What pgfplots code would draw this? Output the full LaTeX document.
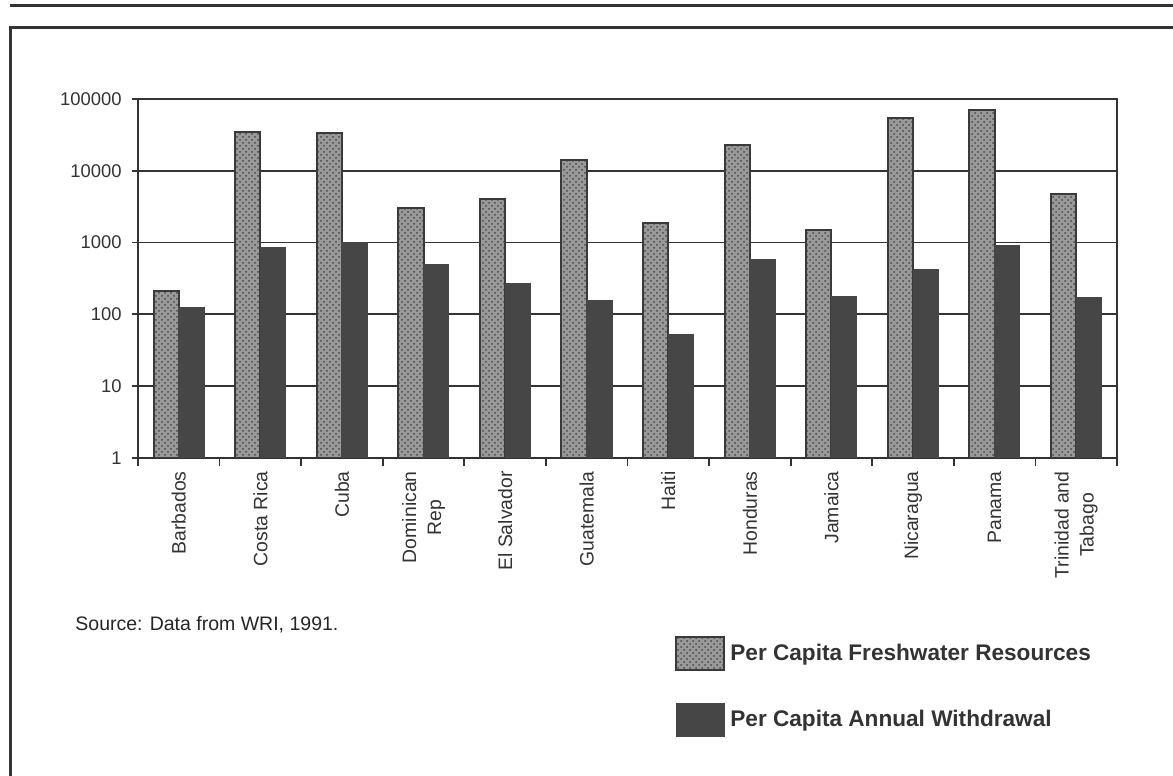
\documentclass[border=0pt]{standalone}
\usepackage{pgfplots}
\pgfplotsset{compat=1.18}
\usepackage{pgfplotstable}
\usetikzlibrary{patterns}
\usepackage{fontspec}
\setmainfont{Liberation Sans}

\definecolor{inkdark}{HTML}{333333}
\definecolor{withdrawfill}{HTML}{464646}
\definecolor{freshfill}{HTML}{999999}
\definecolor{freshdots}{HTML}{4A4A4A}
\definecolor{freshedge}{HTML}{3A3A3A}

% per capita freshwater resources and annual withdrawal (m3 per person)
\pgfplotstableread{
idx fresh withdrawal
0   210    123
1   34300  850
2   34000  1000
3   3070   496
4   4000   267
5   14100  156
6   1900   52
7   22800  582
8   1480   179
9   53700  423
10  70800  915
11  4710   173
}\water

\begin{document}
\begin{tikzpicture}
% page frame
\path[use as bounding box] (0pt,0pt) rectangle (586.5pt,388pt);
\draw[line width=1.5pt, inkdark] (5pt,385pt) -- (586.5pt,385pt);
\draw[line width=1.5pt, inkdark] (586.5pt,374pt) -- (5pt,374pt) -- (5pt,0pt);

\begin{axis}[
  at={(69pt,159pt)}, anchor=south west,
  scale only axis,
  width=489.5pt, height=179.5pt,
  ymode=log,
  ymin=1, ymax=100000,
  xmin=-0.5, xmax=11.5,
  ytick={1,10,100,1000,10000,100000},
  yticklabels={1,10,100,1000,10000,100000},
  yticklabel style={font=\fontsize{9.2}{10}\selectfont, text=inkdark, inner sep=0pt, xshift=-5pt},
  xtick={0,...,11},
  xticklabels={Barbados,Costa Rica,Cuba,Dominican\\Rep,El Salvador,Guatemala,Haiti,Honduras,Jamaica,Nicaragua,Panama,Trinidad and\\Tabago},
  xticklabel style={rotate=90, anchor=east, align=center, inner sep=0pt,
    font=\fontsize{9.7}{12.5}\selectfont, text=inkdark, xshift=-3.5pt},
  minor xtick={-0.5,0.5,...,11.5},
  every major x tick/.append style={draw=none},
  tick pos=left,
  tick align=outside,
  major tick length=3pt,
  minor tick length=4pt,
  tick style={inkdark, line width=0.9pt},
  ymajorgrids,
  major grid style={inkdark, line width=0.9pt},
  axis line style={inkdark, line width=1pt},
  yminorticks=false,
  log origin=infty,
  ybar,
  bar width=0.31,
  legend style={at={(0.5485,-0.495)}, anchor=north west, draw=none, fill=none,
    inner sep=0pt, row sep=16pt, column sep=2.5pt,
    font=\fontsize{11.3}{12}\selectfont\bfseries, text=inkdark,
    nodes={inner sep=0pt, anchor=west}},
  legend cell align=left,
  legend image code/.code={\fill[#1] (0pt,-8.25pt) rectangle (24pt,8.25pt);},
]
\addplot[bar shift=-0.155, fill=freshfill, draw=freshedge, line width=1pt,
  postaction={pattern=crosshatch dots, pattern color=freshdots}]
  table[x=idx, y=fresh] {\water};
\addplot[bar shift=0.155, fill=withdrawfill, draw=withdrawfill, line width=0.5pt]
  table[x=idx, y=withdrawal] {\water};
\legend{Per Capita Freshwater Resources, Per Capita Annual Withdrawal}
\end{axis}

\node[anchor=west, inner sep=0pt, font=\fontsize{9.75}{12}\selectfont, text=black!85]
  at (37.5pt,75.5pt) {Source: Data from WRI, 1991.};
\end{tikzpicture}
\end{document}
